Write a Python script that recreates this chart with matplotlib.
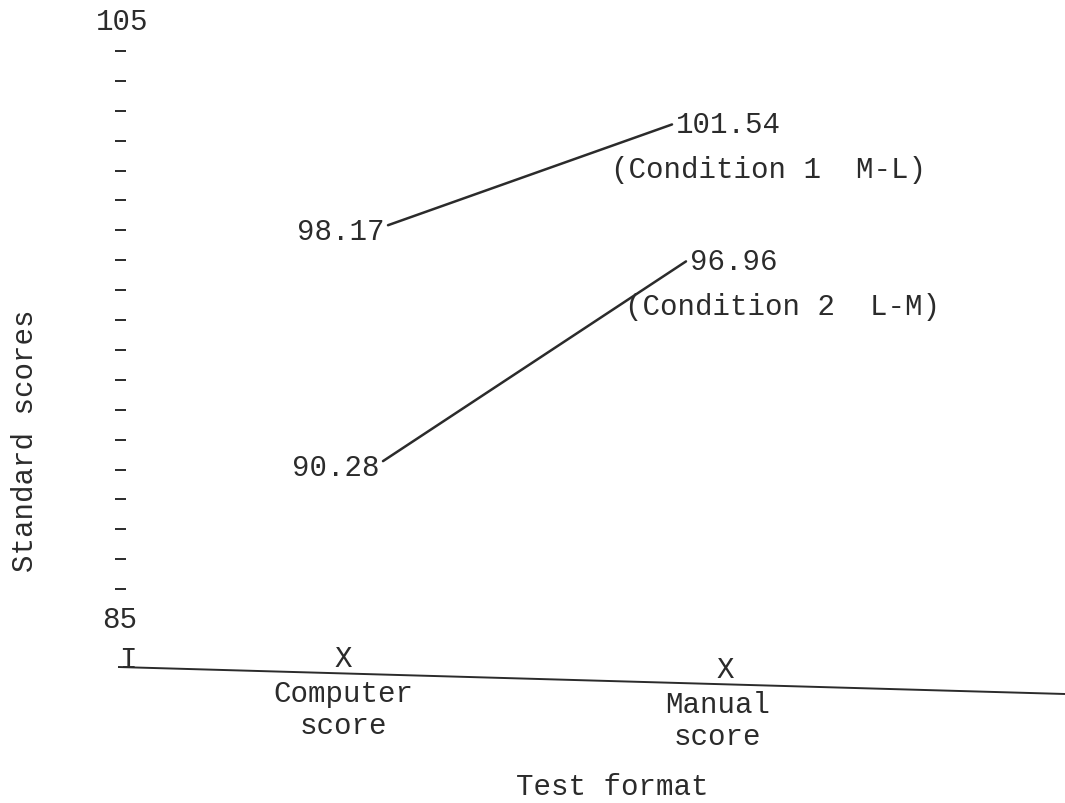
import matplotlib
matplotlib.use("Agg")
import matplotlib.pyplot as plt
import numpy as np

# ---- data ----
categories = ["Computer\nscore", "Manual\nscore"]
conditions = ["(Condition 1  M-L)", "(Condition 2  L-M)"]
computer_scores = [98.17, 90.28]
manual_scores = [101.54, 96.96]
y_min, y_max = 85, 105
tick_values = list(range(86, 105))
y_label = "Standard scores"
x_label = "Test format"

# ---- pixel helpers (figure 1065 x 804 @100 dpi) ----
W, H = 1065, 804
PX_CAT1, PX_PER_CAT = 343, 382
PY_TOP, PX_PER_UNIT = 22, 29.9


def dx(px):
    return 1 + (px - PX_CAT1) / PX_PER_CAT


def dy(py):
    return y_max - (py - PY_TOP) / PX_PER_UNIT


ink = "#2b2b2b"
font = dict(family=["Liberation Mono", "DejaVu Sans Mono"], size=21, color=ink)

fig = plt.figure(figsize=(W / 100, H / 100), dpi=100)
ax = fig.add_axes([0, 0, 1, 1])
ax.set_xlim(dx(0), dx(W))
ax.set_ylim(dy(H), dy(0))
ax.axis("off")

# y-axis: typed dashes and end labels
ax.hlines(tick_values, dx(115), dx(126), color=ink, lw=1.4)
ax.text(dx(122), y_max, str(y_max), ha="center", va="center", **font)
ax.text(dx(120), y_min, str(y_min), ha="center", va="center", **font)
ax.text(dx(128), dy(660), "I", ha="center", va="center", **font)

# slightly tilted baseline (scanned page)
bx = np.array([dx(118), dx(W)])
by = np.array([dy(668), dy(695)])
ax.plot(bx, by, color=ink, lw=1.4, solid_capstyle="butt")


def base_y(x):
    return np.interp(x, bx, by)


# category marks and labels
for i, cat in enumerate(categories):
    x = i + 1
    yb = base_y(x)
    ax.text(x, yb + 0.05, "X", ha="center", va="bottom", **font)
    ax.text(x + (0 if i == 0 else -0.02), yb - 0.2, cat,
            ha="center", va="top", linespacing=1.15, **font)

# data lines
x_starts = [dx(388), dx(383)]
x_ends = [dx(672), dx(686)]
for c, m, xs, xe, cond in zip(computer_scores, manual_scores, x_starts, x_ends, conditions):
    ax.plot([xs, xe], [c, m], color=ink, lw=1.8, solid_capstyle="round")
    ax.text(xs - 0.008, c - 0.2, f"{c:.2f}", ha="right", va="center", **font)
    ax.text(xe + 0.01, m, f"{m:.2f}", ha="left", va="center", **font)
    ax.text(xe - 0.16, m - 1.5, cond, ha="left", va="center", **font)

# axis titles
ax.text(dx(612), dy(787), x_label, ha="center", va="center", **font)
ax.text(dx(25), dy(441), y_label, ha="center", va="center", rotation=90, **font)

fig.savefig("out.png", dpi=100, facecolor="white")
